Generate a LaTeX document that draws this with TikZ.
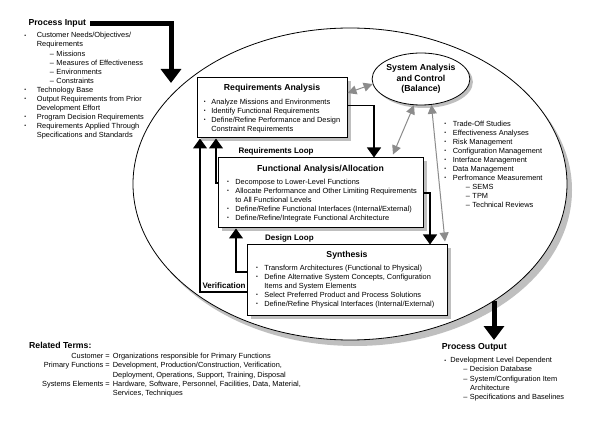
\documentclass[tikz,border=0pt]{standalone}
\usepackage{fontspec}
\setmainfont{Liberation Sans}
\usepackage{graphicx}
\usetikzlibrary{positioning,shapes.geometric,shadows,arrows.meta}

\newcommand{\bitem}[1][8pt]{\makebox[#1][l]{\raisebox{0.2ex}{\scalebox{0.7}{\textbullet}}}}
\newcommand{\cont}[1][8pt]{\hspace*{#1}}
\newcommand{\dashitem}[1][21pt]{\hspace*{#1}\makebox[6.6pt][l]{–}}

\begin{document}
\begin{tikzpicture}[x=1pt,y=-1pt]
    \tikzstyle{every node}=[inner sep=0]
    \tikzstyle{box}=[draw,rectangle,line width=1pt,fill=white,drop shadow={shadow xshift=3.5pt,shadow yshift=-3.5pt,fill=black!25,opacity=1}]
    \tikzstyle{head}=[font=\fontsize{8.7}{10.5}\selectfont\bfseries]
    \tikzstyle{title}=[head,anchor=base]
    \tikzstyle{note}=[font=\fontsize{7.4}{9.05}\selectfont,anchor=north west]
    \tikzstyle{looplabel}=[font=\fontsize{8}{9}\selectfont\bfseries,anchor=base west]
    \tikzstyle{flow}=[->,line width=1.2pt,>={Triangle[length=10pt,width=14pt]}]
    \tikzstyle{balance}=[<->,draw=black!45,line width=1pt,>={Triangle[length=9pt,width=9pt]}]
    \tikzstyle{bigflow}=[->,line width=5pt,>={Triangle[length=14pt,width=20pt]}]
    {
        \path[fill=white,use as bounding box] (0,0) rectangle (608,422);

        % the process wheel
        \node[ellipse,draw,line width=0.8pt,fill=white,minimum width=434pt,minimum height=312pt,
              drop shadow={shadow xshift=5pt,shadow yshift=-6pt,fill=black!25,opacity=1}] (process) at (350,184) {};
        \node[ellipse,draw,line width=0.8pt,fill=white,minimum width=96pt,minimum height=52pt,head,align=center,
              drop shadow={shadow xshift=3pt,shadow yshift=-3pt,fill=black!25,opacity=1}] (sac) at (421,79) {System Analysis\\and Control\\(Balance)};

        \node[box,minimum width=150pt,minimum height=60pt] (ra) at (272,108) {};
        \node[box,minimum width=205pt,minimum height=70pt] (fa) at (320.5,193) {};
        \node[box,minimum width=200pt,minimum height=70pt] (syn) at (347,280) {};

        \node[title] (ra-title) at ([yshift=-13.1pt]ra.north) {Requirements Analysis};
        \node[title] (fa-title) at ([yshift=-14.1pt]fa.north) {Functional Analysis/Allocation};
        \node[title] (syn-title) at ([yshift=-13pt]syn.north) {Synthesis};

        \node[note] (ra-list) at ([xshift=7.2pt,yshift=-20.4pt]ra.north west) {\begin{tabular}{@{}l@{}}
            \bitem[7.5pt]Analyze Missions and Environments\\
            \bitem[7.5pt]Identify Functional Requirements\\
            \bitem[7.5pt]Define/Refine Performance and Design\\
            \cont[7.5pt]Constraint Requirements
        \end{tabular}};
        \node[note] (fa-list) at ([xshift=9.5pt,yshift=-20pt]fa.north west) {\begin{tabular}{@{}l@{}}
            \bitem[8.2pt]Decompose to Lower-Level Functions\\
            \bitem[8.2pt]Allocate Performance and Other Limiting Requirements\\
            \cont[8.2pt]to All Functional Levels\\
            \bitem[8.2pt]Define/Refine Functional Interfaces (Internal/External)\\
            \bitem[8.2pt]Define/Refine/Integrate Functional Architecture
        \end{tabular}};
        \node[note] (syn-list) at ([xshift=9.5pt,yshift=-19pt]syn.north west) {\begin{tabular}{@{}l@{}}
            \bitem[8.2pt]Transform Architectures (Functional to Physical)\\
            \bitem[8.2pt]Define Alternative System Concepts, Configuration\\
            \cont[8.2pt]Items and System Elements\\
            \bitem[8.2pt]Select Preferred Product and Process Solutions\\
            \bitem[8.2pt]Define/Refine Physical Interfaces (Internal/External)
        \end{tabular}};

        \node[looplabel] (req-loop) at (238.3,153.9) {Requirements Loop};
        \node[looplabel] (des-loop) at (265,240.6) {Design Loop};
        \node[looplabel] (ver-loop) at (202.3,288.9) {Verification};

        % loops
        \draw[flow] ([yshift=2.3pt]ra.east) -| ([xshift=53.5pt]fa.north);
        \draw[flow] (fa.east) -| ([xshift=83pt]syn.north);
        \draw[flow] ([yshift=10pt]fa.west) -| ([xshift=-56pt]ra.south);
        \draw[flow] ([yshift=8pt]syn.west) -| ([xshift=-84.5pt]fa.south);
        \draw[flow] ([yshift=-12pt]syn.west) -| ([xshift=-72pt]ra.south);

        % balance
        \draw[balance] ([yshift=15pt]ra.east) -- (sac.186);
        \draw[balance] (sac.255) -- ([xshift=72.5pt,yshift=3pt]fa.north);
        \draw[balance] (sac.292) -- ([xshift=98pt,yshift=3pt]syn.north);

        \node[note] (sac-list) at (444.2,119.7) {\begin{tabular}{@{}l@{}}
            \bitem[8.5pt]Trade-Off Studies\\
            \bitem[8.5pt]Effectiveness Analyses\\
            \bitem[8.5pt]Risk Management\\
            \bitem[8.5pt]Configuration Management\\
            \bitem[8.5pt]Interface Management\\
            \bitem[8.5pt]Data Management\\
            \bitem[8.5pt]Perfromance Measurement\\
            \dashitem[21.5pt]SEMS\\
            \dashitem[21.5pt]TPM\\
            \dashitem[21.5pt]Technical Reviews
        \end{tabular}};

        % input
        \node[head,anchor=base west] (pin) at (28.3,25.8) {Process Input};
        \coordinate (pin-tip) at (171,83);
        \draw[bigflow] ([xshift=4pt]pin.east) -| (pin-tip);
        \node[note] (pin-list) at (24.2,31.4) {\begin{tabular}{@{}l@{}}
            \bitem[12.5pt]Customer Needs/Objectives/\\
            \cont[12.5pt]Requirements\\
            \dashitem[25.5pt]Missions\\
            \dashitem[25.5pt]Measures of Effectiveness\\
            \dashitem[25.5pt]Environments\\
            \dashitem[25.5pt]Constraints\\
            \bitem[12.5pt]Technology Base\\
            \bitem[12.5pt]Output Requirements from Prior\\
            \cont[12.5pt]Development Effort\\
            \bitem[12.5pt]Program Decision Requirements\\
            \bitem[12.5pt]Requirements Applied Through\\
            \cont[12.5pt]Specifications and Standards
        \end{tabular}};

        % output
        \coordinate (pout-tip) at (494,340);
        \draw[bigflow] (pout-tip |- process.-39) -- (pout-tip);
        \node[head,anchor=base west] (pout) at (441.7,349.8) {Process Output};
        \node[note] (pout-list) at (444.2,356.4) {\begin{tabular}{@{}l@{}}
            \bitem[6pt]Development Level Dependent\\
            \dashitem[19pt]Decision Database\\
            \dashitem[19pt]System/Configuration Item\\
            \cont[25.8pt]Architecture\\
            \dashitem[19pt]Specifications and Baselines
        \end{tabular}};

        % terms
        \node[head,anchor=base west] (terms) at (29,348) {Related Terms:};
        \node[note,anchor=north east] (terms-keys) at (110,352.4) {\begin{tabular}{@{}r@{}}
            Customer =\\
            Primary Functions =\\
            \\
            Systems Elements =
        \end{tabular}};
        \node[note] (terms-vals) at (112.7,352.4) {\begin{tabular}{@{}l@{}}
            Organizations responsible for Primary Functions\\
            Development, Production/Construction, Verification,\\
            Deployment, Operations, Support, Training, Disposal\\
            Hardware, Software, Personnel, Facilities, Data, Material,\\
            Services, Techniques
        \end{tabular}};
    }
\end{tikzpicture}
\end{document}
